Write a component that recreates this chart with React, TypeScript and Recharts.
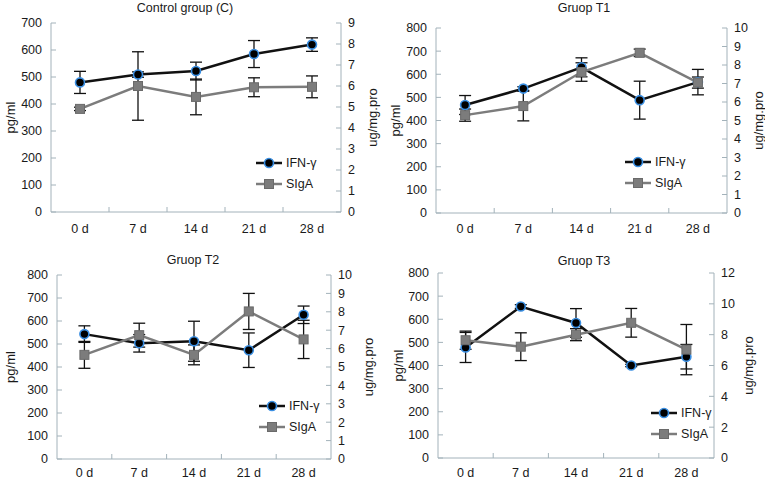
import React from "react";
import { LineChart, Line, XAxis, YAxis, ErrorBar } from "recharts";

const days = ["0 d", "7 d", "14 d", "21 d", "28 d"];

// Control group (C)
const ctrlIfn = [480, 509, 522, 585, 620];
const ctrlIfnErr = [41, 10, 33, 50, 25];
const ctrlSiga = [4.91, 6.0, 5.48, 5.94, 5.96];
const ctrlSigaErr = [0.08, 1.63, 0.85, 0.45, 0.52];

// Gruop T1
const t1Ifn = [467, 538, 630, 488, 566];
const t1IfnErr = [41, 8, 41, 82, 55];
const t1Siga = [5.29, 5.78, 7.62, 8.66, 7.05];
const t1SigaErr = [0.33, 0.8, 0.5, 0.2, 0.3];

// Gruop T2
const t2Ifn = [543, 503, 512, 473, 627];
const t2IfnErr = [36, 38, 87, 75, 38];
const t2Siga = [5.66, 6.73, 5.66, 8.02, 6.5];
const t2SigaErr = [0.73, 0.65, 0.54, 0.98, 1.04];

// Gruop T3
const t3Ifn = [478, 655, 584, 400, 438];
const t3IfnErr = [65, 8, 62, 5, 53];
const t3Siga = [7.64, 7.22, 8.0, 8.77, 7.03];
const t3SigaErr = [0.59, 0.9, 0.39, 0.93, 1.63];

const ticks700 = [0, 100, 200, 300, 400, 500, 600, 700];
const ticks800 = [0, 100, 200, 300, 400, 500, 600, 700, 800];
const ticks9 = [0, 1, 2, 3, 4, 5, 6, 7, 8, 9];
const ticks10 = [0, 1, 2, 3, 4, 5, 6, 7, 8, 9, 10];
const ticks12 = [0, 2, 4, 6, 8, 10, 12];

const AXIS = "#a3b2ba";
const FONT = "'Liberation Sans', Arial, sans-serif";
const TXT = "#1a1a1a";
const TICK_FS = 12.5;

const rows = (ifn: number[], ifnErr: number[], siga: number[], sigaErr: number[]) =>
  days.map((d, i) => ({ day: d, ifn: ifn[i], ifnErr: ifnErr[i], siga: siga[i], sigaErr: sigaErr[i] }));

const LeftTick = (props: any) => {
  const { x, y, payload } = props;
  return (
    <g>
      <line x1={x + 9} x2={x + 14} y1={y} y2={y} stroke={AXIS} />
      <text x={x} y={y} dy="0.35em" textAnchor="end" fontSize={TICK_FS} fontFamily={FONT} fill={TXT}>
        {payload.value}
      </text>
    </g>
  );
};

const RightTick = (props: any) => {
  const { x, y, payload } = props;
  return (
    <g>
      <line x1={x - 7} x2={x - 12} y1={y} y2={y} stroke={AXIS} />
      <text x={x} y={y} dy="0.35em" textAnchor="start" fontSize={TICK_FS} fontFamily={FONT} fill={TXT}>
        {payload.value}
      </text>
    </g>
  );
};

const makeXTick = (band: number, gap: number) => (props: any) => {
  const { x, y, payload, index } = props;
  const ay = y - gap;
  return (
    <g>
      {index > 0 && <line x1={x - band / 2} x2={x - band / 2} y1={ay} y2={ay - 5} stroke={AXIS} />}
      <text x={x} y={y} dy="0.35em" textAnchor="middle" fontSize={TICK_FS} fontFamily={FONT} fill={TXT}>
        {payload.value}
      </text>
    </g>
  );
};

const circleDot = (p: any) => (
  <circle key={`c-${p.index}`} cx={p.cx} cy={p.cy} r={4.5} fill="#000" stroke="#3a8fe3" strokeWidth={1.6} />
);
const squareDot = (p: any) => (
  <rect key={`s-${p.index}`} x={p.cx - 4.5} y={p.cy - 4.5} width={9} height={9} fill="#7c7c7c" stroke="#6a6a6a" />
);

function LegendRows({ x, y }: { x: number; y: number }) {
  const row = (ty: number, name: string, kind: "c" | "s") => (
    <div style={{ position: "absolute", left: x, top: ty - 8, height: 16, display: "flex", alignItems: "center", whiteSpace: "nowrap" }}>
      <svg width={26} height={12}>
        <line x1={0} x2={26} y1={6} y2={6} stroke={kind === "c" ? "#111" : "#7c7c7c"} strokeWidth={2.5} />
        {kind === "c" ? (
          <circle cx={13} cy={6} r={4.5} fill="#000" stroke="#3a8fe3" strokeWidth={1.6} />
        ) : (
          <rect x={8.5} y={1.5} width={9} height={9} fill="#7c7c7c" stroke="#6a6a6a" />
        )}
      </svg>
      <span style={{ marginLeft: 4, fontSize: 12.5, fontFamily: FONT, color: TXT }}>{name}</span>
    </div>
  );
  return (
    <>
      {row(y, "IFN-γ", "c")}
      {row(y + 21, "SIgA", "s")}
    </>
  );
}

type PanelProps = {
  title: string;
  left: number;
  top: number;
  width: number;
  height: number;
  mTop: number;
  leftW: number;
  rightW: number;
  xH: number;
  xGap: number;
  data: any[];
  leftMax: number;
  leftTicks: number[];
  rightMax: number;
  rightTicks: number[];
  lOff: number;
  rOff: number;
  titleX: number;
  titleY: number;
  legX: number;
  legY: number;
};

function Panel(p: PanelProps) {
  const band = (p.width - p.leftW - p.rightW) / days.length;
  const labelStyle = { textAnchor: "middle", fontSize: 13, fontFamily: FONT, fill: TXT };
  return (
    <div style={{ position: "absolute", left: p.left, top: p.top, width: p.width, height: p.height }}>
      <div
        style={{
          position: "absolute",
          left: p.titleX - 100,
          width: 200,
          top: p.titleY - 8,
          textAlign: "center",
          fontSize: 12.5,
          lineHeight: "16px",
          fontFamily: FONT,
          color: TXT,
        }}
      >
        {p.title}
      </div>
      <LineChart width={p.width} height={p.height} data={p.data} margin={{ top: p.mTop, right: 0, bottom: 0, left: 0 }}>
        <XAxis
          dataKey="day"
          height={p.xH}
          stroke={AXIS}
          tickLine={false}
          tickSize={0}
          tickMargin={p.xGap}
          interval={0}
          padding={{ left: band / 2, right: band / 2 }}
          tick={makeXTick(band, p.xGap)}
        />
        <YAxis
          yAxisId="left"
          width={p.leftW}
          domain={[0, p.leftMax]}
          ticks={p.leftTicks}
          interval={0}
          stroke={AXIS}
          tickLine={false}
          tickSize={0}
          tickMargin={9}
          tick={LeftTick}
          label={{ value: "pg/ml", angle: -90, position: "insideLeft", offset: p.lOff, style: labelStyle }}
        />
        <YAxis
          yAxisId="right"
          orientation="right"
          width={p.rightW}
          domain={[0, p.rightMax]}
          ticks={p.rightTicks}
          interval={0}
          stroke={AXIS}
          tickLine={false}
          tickSize={0}
          tickMargin={7}
          tick={RightTick}
          label={{ value: "ug/mg.pro", angle: -90, position: "insideRight", offset: p.rOff, style: labelStyle }}
        />
        <Line
          yAxisId="left"
          type="linear"
          dataKey="ifn"
          stroke="#111"
          strokeWidth={2.5}
          dot={circleDot}
          activeDot={false}
          isAnimationActive={false}
        >
          <ErrorBar dataKey="ifnErr" width={6} stroke="#111" strokeWidth={1.3} direction="y" />
        </Line>
        <Line
          yAxisId="right"
          type="linear"
          dataKey="siga"
          stroke="#7c7c7c"
          strokeWidth={2.5}
          dot={squareDot}
          activeDot={false}
          isAnimationActive={false}
        >
          <ErrorBar dataKey="sigaErr" width={6} stroke="#111" strokeWidth={1.3} direction="y" />
        </Line>
      </LineChart>
      <LegendRows x={p.legX} y={p.legY} />
    </div>
  );
}

export default function App() {
  return (
    <div style={{ position: "absolute", left: 0, top: 0, width: 765, height: 482, background: "#fff", overflow: "hidden" }}>
      <Panel
        title="Control group (C)"
        left={0} top={0} width={382} height={241}
        mTop={23} leftW={51} rightW={41} xH={29} xGap={17}
        data={rows(ctrlIfn, ctrlIfnErr, ctrlSiga, ctrlSigaErr)}
        leftMax={700} leftTicks={ticks700} rightMax={9} rightTicks={ticks9}
        lOff={10} rOff={10} titleX={185} titleY={8} legX={256} legY={163}
      />
      <Panel
        title="Gruop T1"
        left={382} top={0} width={383} height={241}
        mTop={28} leftW={54} rightW={38} xH={28} xGap={16}
        data={rows(t1Ifn, t1IfnErr, t1Siga, t1SigaErr)}
        leftMax={800} leftTicks={ticks800} rightMax={10} rightTicks={ticks10}
        lOff={13} rOff={7} titleX={202} titleY={8} legX={243} legY={162}
      />
      <Panel
        title="Gruop T2"
        left={0} top={241} width={382} height={241}
        mTop={34} leftW={57} rightW={51} xH={23} xGap={14}
        data={rows(t2Ifn, t2IfnErr, t2Siga, t2SigaErr)}
        leftMax={800} leftTicks={ticks800} rightMax={10} rightTicks={ticks10}
        lOff={10} rOff={14} titleX={193} titleY={19} legX={259} legY={165}
      />
      <Panel
        title="Gruop T3"
        left={382} top={241} width={383} height={241}
        mTop={32} leftW={56} rightW={51} xH={24} xGap={15}
        data={rows(t3Ifn, t3IfnErr, t3Siga, t3SigaErr)}
        leftMax={800} leftTicks={ticks800} rightMax={12} rightTicks={ticks12}
        lOff={16} rOff={17} titleX={202} titleY={20} legX={269} legY={172}
      />
    </div>
  );
}
